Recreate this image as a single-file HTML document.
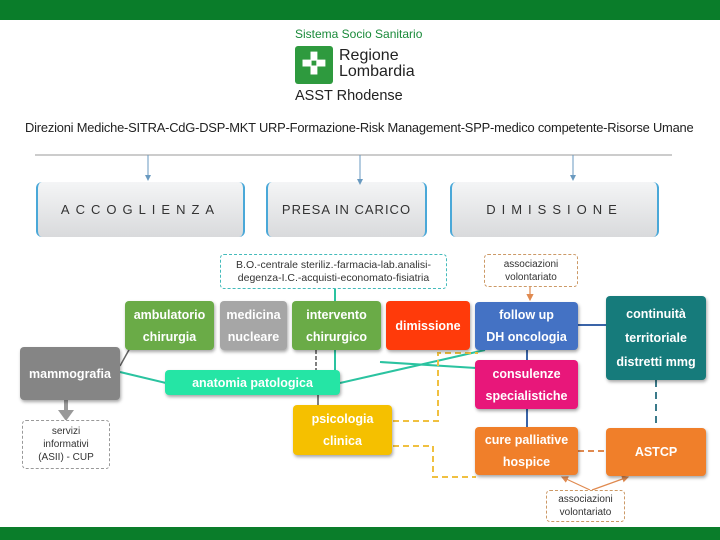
<!DOCTYPE html>
<html><head><meta charset="utf-8"><style>
body{margin:0;width:720px;height:540px;position:relative;overflow:hidden;background:#fff;font-family:"Liberation Sans",sans-serif}
.a{position:absolute}
.n{position:absolute;display:flex;align-items:center;justify-content:center;text-align:center;color:#fff;font-weight:bold;font-size:12.5px;line-height:22px;border-radius:4px;box-shadow:1px 2px 3px rgba(0,0,0,.35)}
.ph{position:absolute;top:182px;height:55px;background:linear-gradient(#f4f5f6,#d9dadc);display:flex;align-items:center;justify-content:center;font-size:13px;color:#333;border-left:2px solid #4aa8d8;border-right:2px solid #4aa8d8;border-radius:6px}
.d{position:absolute;border:1px dashed;border-radius:4px;display:flex;align-items:center;justify-content:center;text-align:center;font-size:10px;line-height:13px;color:#333;background:#fff}
</style></head><body>
<div class="a" style="left:0;top:0;width:720px;height:20px;background:#0a7d2a"></div>
<div class="a" style="left:0;top:527px;width:720px;height:13px;background:#0a7d2a"></div>
<div class="a" style="left:295px;top:27px;font-size:12px;color:#1a8a3a">Sistema Socio Sanitario</div>
<div class="a" style="left:295px;top:46px;width:38px;height:38px;background:#2e9a3e;border-radius:3px;color:#fff;font-size:30px;line-height:38px;text-align:center;font-weight:bold">✜</div>
<div class="a" style="left:339px;top:48px;font-size:16px;line-height:16px;color:#222">Regione<br>Lombardia</div>
<div class="a" style="left:295px;top:88px;font-size:14.5px;color:#222">ASST Rhodense</div>
<div class="a" style="left:25px;top:120px;font-size:12.9px;color:#222;white-space:nowrap;letter-spacing:-0.2px">Direzioni Mediche-SITRA-CdG-DSP-MKT URP-Formazione-Risk Management-SPP-medico competente-Risorse Umane</div>
<div class="ph" style="left:36px;width:205px;letter-spacing:6px">ACCOGLIENZA</div>
<div class="ph" style="left:266px;width:157px;letter-spacing:1px">PRESA IN CARICO</div>
<div class="ph" style="left:450px;width:205px;letter-spacing:6px">DIMISSIONE</div>
<svg class="a" style="left:0;top:0" width="720" height="540">
<defs><marker id="ar" markerWidth="6" markerHeight="6" refX="5" refY="3" orient="auto"><path d="M0,0L6,3L0,6z" fill="#6a9ac0"/></marker>
<marker id="ao" markerWidth="6" markerHeight="6" refX="5" refY="3" orient="auto"><path d="M0,0L6,3L0,6z" fill="#e08a50"/></marker></defs>
<line x1="35" y1="155" x2="672" y2="155" stroke="#999" stroke-width="1"/>
<g stroke="#6a9ac0" stroke-width="1" marker-end="url(#ar)"><line x1="148" y1="155" x2="148" y2="180"/><line x1="360" y1="155" x2="360" y2="184"/><line x1="573" y1="155" x2="573" y2="180"/></g>
<g stroke="#2bc3a0" stroke-width="2" fill="none">
<line x1="335" y1="288" x2="335" y2="302"/><line x1="335" y1="350" x2="335" y2="371"/>
<line x1="120" y1="372" x2="166" y2="383"/><line x1="340" y1="383" x2="485" y2="350"/>
<line x1="380" y1="362" x2="476" y2="368"/></g>
<line x1="130" y1="348" x2="120" y2="366" stroke="#666" stroke-width="1.5"/>
<line x1="316" y1="350" x2="316" y2="370" stroke="#555" stroke-width="1.5" stroke-dasharray="4,2"/>
<line x1="318" y1="395" x2="318" y2="406" stroke="#555" stroke-width="1.5"/>
<g stroke="#3a64a8" stroke-width="2"><line x1="578" y1="325" x2="607" y2="325"/><line x1="527" y1="350" x2="527" y2="361"/><line x1="527" y1="409" x2="527" y2="428"/></g>
<line x1="656" y1="380" x2="656" y2="428" stroke="#3a7a8a" stroke-width="2" stroke-dasharray="7,5"/>
<line x1="578" y1="451" x2="606" y2="451" stroke="#e08a50" stroke-width="2" stroke-dasharray="6,4"/>
<g stroke="#f0c040" stroke-width="2" fill="none" stroke-dasharray="6,4">
<path d="M393,421 H438 V353 H478"/>
<path d="M393,446 H433 V477 H476"/>
</g>
<g stroke="#e08a50" stroke-width="1.2" marker-end="url(#ao)"><line x1="530" y1="287" x2="530" y2="300"/><line x1="590" y1="490" x2="562" y2="477"/><line x1="592" y1="490" x2="628" y2="477"/></g>
<line x1="66" y1="400" x2="66" y2="414" stroke="#999" stroke-width="4"/><path d="M58,410L66,421L74,410z" fill="#999"/>
</svg>
<div class="d" style="left:220px;top:254px;width:225px;height:33px;border-color:#4bb;font-size:10.5px">B.O.-centrale steriliz.-farmacia-lab.analisi-<br>degenza-I.C.-acquisti-economato-fisiatria</div>
<div class="d" style="left:484px;top:254px;width:92px;height:31px;border-color:#c96">associazioni<br>volontariato</div>
<div class="d" style="left:546px;top:490px;width:77px;height:30px;border-color:#c96">associazioni<br>volontariato</div>
<div class="d" style="left:22px;top:420px;width:86px;height:47px;border-color:#999">servizi<br>informativi<br>(ASII) - CUP</div>
<div class="n" style="left:125px;top:301px;width:89px;height:49px;background:#6aab47">ambulatorio<br>chirurgia</div>
<div class="n" style="left:220px;top:301px;width:67px;height:49px;background:#a6a6a6">medicina<br>nucleare</div>
<div class="n" style="left:292px;top:301px;width:89px;height:49px;background:#6aab47">intervento<br>chirurgico</div>
<div class="n" style="left:386px;top:301px;width:84px;height:49px;background:#ff3a0a">dimissione</div>
<div class="n" style="left:475px;top:302px;width:103px;height:48px;background:#4472c4">follow up<br>DH oncologia</div>
<div class="n" style="left:606px;top:296px;width:100px;height:84px;background:#167b7b;line-height:24px">continuità<br>territoriale<br>distretti mmg</div>
<div class="n" style="left:20px;top:347px;width:100px;height:53px;background:#858585">mammografia</div>
<div class="n" style="left:165px;top:370px;width:175px;height:25px;background:#25e5a5">anatomia patologica</div>
<div class="n" style="left:475px;top:360px;width:103px;height:49px;background:#e8177a">consulenze<br>specialistiche</div>
<div class="n" style="left:293px;top:405px;width:99px;height:50px;background:#f5c000">psicologia<br>clinica</div>
<div class="n" style="left:475px;top:427px;width:103px;height:48px;background:#f07f2a">cure palliative<br>hospice</div>
<div class="n" style="left:606px;top:428px;width:100px;height:48px;background:#f07f2a">ASTCP</div>
</body></html>
